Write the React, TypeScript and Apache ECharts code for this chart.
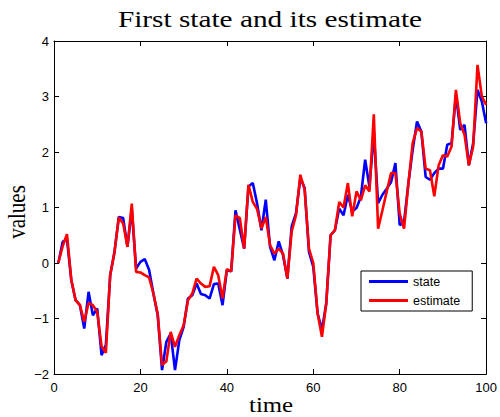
import React, { useEffect, useRef } from "react";
import * as echarts from "echarts";

// Time steps 1..100
const time: number[] = Array.from({ length: 100 }, (_, i) => i + 1);

const state: number[] = [
  0, 0.38, 0.43, -0.31, -0.67, -0.76, -1.18, -0.52, -0.94, -0.82,
  -1.66, -1.48, -0.22, 0.2, 0.83, 0.81, 0.29, 0.97, -0.1, 0.02,
  0.07, -0.12, -0.55, -0.94, -1.93, -1.42, -1.27, -1.93, -1.39, -1.15,
  -0.64, -0.58, -0.37, -0.56, -0.58, -0.64, -0.38, -0.37, -0.76, -0.13,
  -0.15, 0.95, 0.6, 0.26, 1.38, 1.44, 1.07, 0.59, 1.14, 0.29,
  0.05, 0.39, 0.14, -0.28, 0.66, 0.9, 1.53, 1.35, 0.2, -0.07,
  -0.91, -1.2, -0.73, 0.5, 0.59, 0.98, 0.86, 1.23, 0.93, 0.99,
  1.19, 1.86, 1.37, 2.34, 1.08, 1.23, 1.34, 1.46, 1.8, 0.68,
  0.74, 1.43, 2.04, 2.55, 2.37, 1.55, 1.5, 1.62, 1.7, 1.7,
  2.13, 2.16, 3.03, 2.4, 2.49, 1.76, 2.16, 3.12, 2.91, 2.52,
];

const estimate: number[] = [
  0, 0.3, 0.52, -0.3, -0.67, -0.76, -1.06, -0.72, -0.76, -0.88,
  -1.5, -1.62, -0.22, 0.2, 0.82, 0.71, 0.29, 1.07, -0.16, -0.17,
  -0.22, -0.26, -0.55, -0.92, -1.84, -1.77, -1.24, -1.51, -1.3, -1.12,
  -0.67, -0.55, -0.28, -0.37, -0.43, -0.42, -0.07, -0.22, -0.64, -0.11,
  -0.15, 0.86, 0.81, 0.26, 1.41, 1.1, 0.97, 0.62, 0.83, 0.32,
  0.17, 0.26, 0.17, -0.28, 0.57, 0.86, 1.59, 1.32, 0.26, 0.0,
  -0.91, -1.33, -0.73, 0.5, 0.59, 1.1, 1.0, 1.44, 0.84, 1.29,
  1.13, 1.4, 1.29, 2.68, 0.62, 0.95, 1.29, 1.62, 1.62, 0.89,
  0.62, 1.43, 2.16, 2.43, 2.37, 1.7, 1.67, 1.2, 1.76, 1.94,
  1.92, 2.1, 3.12, 2.52, 2.31, 1.76, 2.1, 3.57, 3.0, 2.85,
];

const seriesNames = ["state", "estimate"];
const seriesColors = ["#0000ff", "#ff0000"];

const titleText = "First state and its estimate";
const xLabel = "time";
const yLabel = "values";

const sansFont = "'Liberation Sans', Arial, sans-serif";
const serifFont = "'Liberation Serif', 'Times New Roman', serif";

const minusFmt = (v: number) => String(v).replace("-", "\u2212");

export default function App() {
  const ref = useRef<HTMLDivElement>(null);

  useEffect(() => {
    if (!ref.current) return;
    const chart = echarts.init(ref.current, null, { renderer: "svg" });

    const boxAxis = {
      axisLine: { show: true, onZero: false, lineStyle: { color: "#000", width: 1 } },
      axisTick: { show: true, inside: true, length: 5, lineStyle: { color: "#000" } },
      axisLabel: { show: false },
      splitLine: { show: false },
    };

    chart.setOption({
      animation: false,
      backgroundColor: "#fff",
      graphic: [
        {
          type: "text",
          x: 270,
          y: 19,
          scaleX: 1.22,
          style: {
            text: titleText,
            fontFamily: serifFont,
            fontSize: 24,
            fill: "#000",
            textAlign: "center",
            textVerticalAlign: "middle",
          },
        },
        {
          type: "text",
          x: 271,
          y: 405,
          scaleX: 1.18,
          style: {
            text: xLabel,
            fontFamily: serifFont,
            fontSize: 21,
            fill: "#000",
            textAlign: "center",
            textVerticalAlign: "middle",
          },
        },
        {
          type: "text",
          x: 17,
          y: 212,
          rotation: Math.PI / 2,
          scaleY: 1.18,
          style: {
            text: yLabel,
            fontFamily: serifFont,
            fontSize: 21,
            fill: "#000",
            textAlign: "center",
            textVerticalAlign: "middle",
          },
        },
      ],
      legend: {
        orient: "vertical",
        left: 361,
        top: 271,
        data: seriesNames,
        icon: "rect",
        itemWidth: 39,
        itemHeight: 3,
        itemGap: 6,
        padding: [4, 12, 4, 8],
        borderColor: "#000",
        borderWidth: 1,
        borderRadius: 0,
        backgroundColor: "#fff",
        textStyle: { fontFamily: sansFont, fontSize: 12.5, color: "#000" },
      },
      grid: { left: 54, right: 12, top: 41, bottom: 43, containLabel: false },
      xAxis: [
        {
          type: "value",
          min: 0,
          max: 100,
          interval: 20,
          position: "bottom",
          axisLine: { show: true, onZero: false, lineStyle: { color: "#000", width: 1 } },
          axisTick: { show: true, inside: true, length: 5, lineStyle: { color: "#000" } },
          axisLabel: { fontFamily: sansFont, fontSize: 13, color: "#000", margin: 7 },
          splitLine: { show: false },
        },
        { type: "value", min: 0, max: 100, interval: 20, position: "top", ...boxAxis },
      ],
      yAxis: [
        {
          type: "value",
          min: -2,
          max: 4,
          interval: 1,
          position: "left",
          axisLine: { show: true, onZero: false, lineStyle: { color: "#000", width: 1 } },
          axisTick: { show: true, inside: true, length: 5, lineStyle: { color: "#000" } },
          axisLabel: { fontFamily: sansFont, fontSize: 13, color: "#000", margin: 5, formatter: minusFmt },
          splitLine: { show: false },
        },
        { type: "value", min: -2, max: 4, interval: 1, position: "right", ...boxAxis },
      ],
      series: [state, estimate].map((vals, k) => ({
        name: seriesNames[k],
        type: "line",
        xAxisIndex: 0,
        yAxisIndex: 0,
        data: time.map((t, i) => [t, vals[i]]),
        showSymbol: false,
        symbol: "none",
        lineStyle: { color: seriesColors[k], width: 2.6 },
        itemStyle: { color: seriesColors[k] },
        z: 2 + k,
      })),
    });

    return () => chart.dispose();
  }, []);

  return (
    <div
      ref={ref}
      style={{ position: "absolute", left: 0, top: 0, width: 500, height: 417 }}
    />
  );
}
